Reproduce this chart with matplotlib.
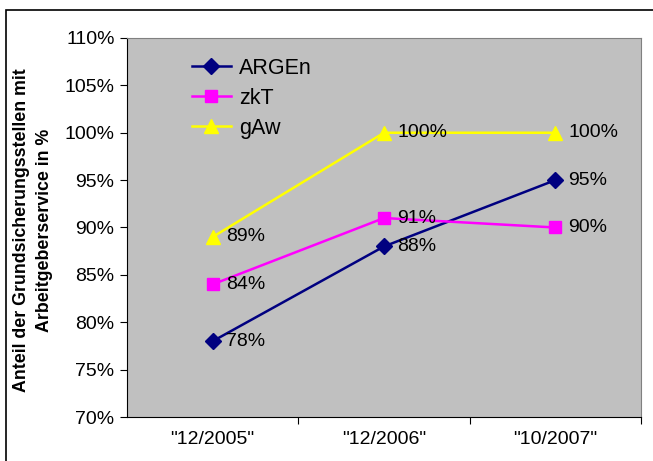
import matplotlib.pyplot as plt
from matplotlib.patches import Rectangle

plt.rcParams['font.family'] = ['Liberation Sans', 'DejaVu Sans']

kategorien = ['"12/2005"', '"12/2006"', '"10/2007"']
argen = [78, 88, 95]
zkt = [84, 91, 90]
gaw = [89, 100, 100]
y_ticks = [70, 75, 80, 85, 90, 95, 100, 105, 110]

fig = plt.figure(figsize=(6.53, 4.61), dpi=100)
ax = fig.add_axes([127 / 653, 1 - 417 / 461, 514 / 653, 379 / 461])
ax.set_facecolor('#C0C0C0')

x = range(len(kategorien))
serien = [
    ('ARGEn', argen, '#000080', 'D', 8),
    ('zkT', zkt, '#FF00FF', 's', 8.5),
    ('gAw', gaw, '#FFFF00', '^', 10.5),
]
for name, werte, farbe, marker, ms in serien:
    ax.plot(x, werte, color=farbe, marker=marker, markersize=ms, lw=1.8,
            label=name, clip_on=False)
    for xi, w in zip(x, werte):
        ax.annotate(f'{w}%', (xi, w), xytext=(9.5, 0), textcoords='offset points',
                    ha='left', va='center', fontsize=14, color='black')

ax.set_xlim(-0.5, 2.5)
ax.set_ylim(70, 110)
ax.set_yticks(y_ticks)
ax.set_yticklabels([f'{t}%' for t in y_ticks], fontsize=14)
ax.set_xticks([0.5, 1.5, 2.5], minor=False)
ax.set_xticklabels([])
ax.set_xticks(list(x), minor=True)
ax.set_xticklabels(kategorien, minor=True, fontsize=14)
ax.tick_params(axis='x', which='minor', length=0, pad=10)
ax.tick_params(axis='x', which='major', length=5, direction='out')
ax.tick_params(axis='y', length=5, direction='out', pad=4)

for s in ['top', 'right']:
    ax.spines[s].set_color('#808080')
for s in ['left', 'bottom']:
    ax.spines[s].set_color('black')

ax.set_ylabel('Anteil der Grundsicherungsstellen mit\nArbeitgeberservice in %',
              fontsize=12.8, fontweight='bold', linespacing=1.45)
ax.yaxis.set_label_coords(-0.144, 0.493)

ax.legend(loc='upper left', bbox_to_anchor=(0.126, 0.948), frameon=False,
          fontsize=15.5, handlelength=1.8, handletextpad=0.4, labelspacing=0.42,
          borderpad=0, borderaxespad=0)

fig.patches.append(Rectangle((6 / 653, -0.1), 1.2, 1 - 10 / 461 + 0.1,
                             transform=fig.transFigure, fill=False,
                             edgecolor='black', lw=1.2))

fig.savefig('out.png', dpi=100)
